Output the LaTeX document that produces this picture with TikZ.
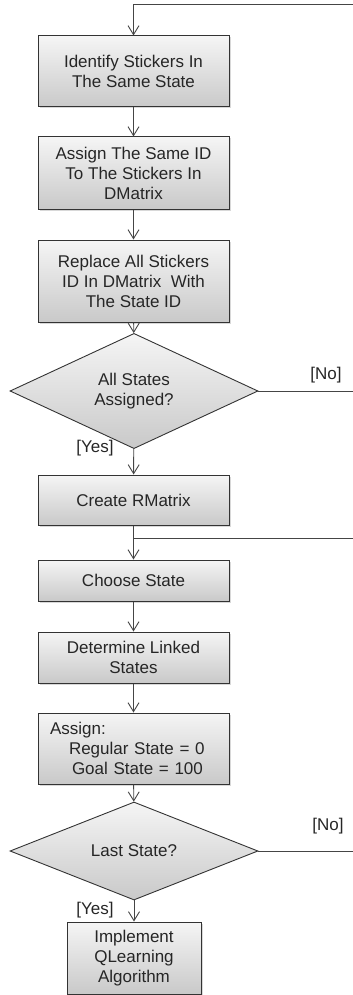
\documentclass[tikz,border=0pt]{standalone}
\usepackage{fontspec}
\setmainfont{Liberation Sans}
\usetikzlibrary{shapes.geometric,arrows.meta,shadows}
\definecolor{linegray}{HTML}{454545}
\definecolor{boxtop}{HTML}{F5F5F5}
\definecolor{boxbottom}{HTML}{C9C9C9}
\begin{document}
\begin{tikzpicture}[x=1pt,y=1pt,
  every node/.style={font=\fontsize{17}{20}\selectfont, text=black!85},
  stepbox/.style={draw=black!80, line width=1pt, top color=boxtop, bottom color=boxbottom,
    align=center, inner sep=0pt, minimum width=191pt,
    drop shadow={shadow xshift=1.5pt, shadow yshift=-1.5pt, fill=black!30}},
  decision/.style={diamond, draw=black!80, line width=0.9pt, top color=boxtop, bottom color=boxbottom,
    align=center, inner sep=0pt, minimum width=248pt},
  flow/.style={draw=linegray, line width=0.9pt, -{Straight Barb[length=9pt,width=11pt]}},
  link/.style={draw=linegray, line width=0.9pt}]
\useasboundingbox (0,0) rectangle (353,-995);
\node[stepbox, minimum height=71pt] (identify) at (133.5,-71.5) {Identify Stickers In\\The Same State};
\node[stepbox, minimum height=72pt] (sameid) at (133.5,-173) {Assign The Same ID\\To The Stickers In\\DMatrix};
\node[stepbox, minimum height=82pt] (replace) at (133.5,-281) {Replace All Stickers\\ID In DMatrix\ \ With\\The State ID};
\node[decision, minimum height=90pt] (allassigned) at (134,-391) {All States\\Assigned?};
\node[stepbox, minimum height=50pt] (rmatrix) at (133.5,-500) {Create RMatrix};
\node[stepbox, minimum height=41pt] (choose) at (133.5,-580.5) {Choose State};
\node[stepbox, minimum height=51pt] (linked) at (133.5,-657.5) {Determine Linked\\States};
\node[stepbox, minimum height=71pt, text width=167pt, align=left] (reward) at (133.5,-748.5)
  {Assign:\\\hspace*{19pt}Regular State = 0\\\hspace*{22pt}Goal State = 100};
\node[decision, minimum height=70pt] (laststate) at (134,-851) {Last State?};
\node[stepbox, minimum width=134pt, minimum height=72pt] (qlearning) at (134,-958) {Implement\\QLearning\\Algorithm};

\node (noA) at (326,-375) {[No]};
\node (yesA) at (95,-448) {[Yes]};
\node (noB) at (328,-826) {[No]};
\node (yesB) at (95,-910) {[Yes]};

\coordinate (backA) at (353,-4);
\coordinate (backB) at (353,-538);
\coordinate (exitA) at (353,-391);
\coordinate (exitB) at (353,-851);

\draw[flow] (backA) -| (identify.north);
\draw[flow] (identify) -- (sameid);
\draw[flow] (sameid) -- (replace);
\draw[flow] (replace) -- (allassigned);
\draw[flow] (allassigned) -- (rmatrix);
\draw[link] (allassigned.east) -- (exitA);
\draw[flow] (rmatrix) -- (choose);
\draw[link] (backB) -- (backB -| rmatrix.south);
\draw[flow] (choose) -- (linked);
\draw[flow] (linked) -- (reward);
\draw[flow] (reward) -- (laststate);
\draw[link] (laststate.east) -- (exitB);
\draw[flow] (laststate) -- (qlearning);
\end{tikzpicture}
\end{document}
